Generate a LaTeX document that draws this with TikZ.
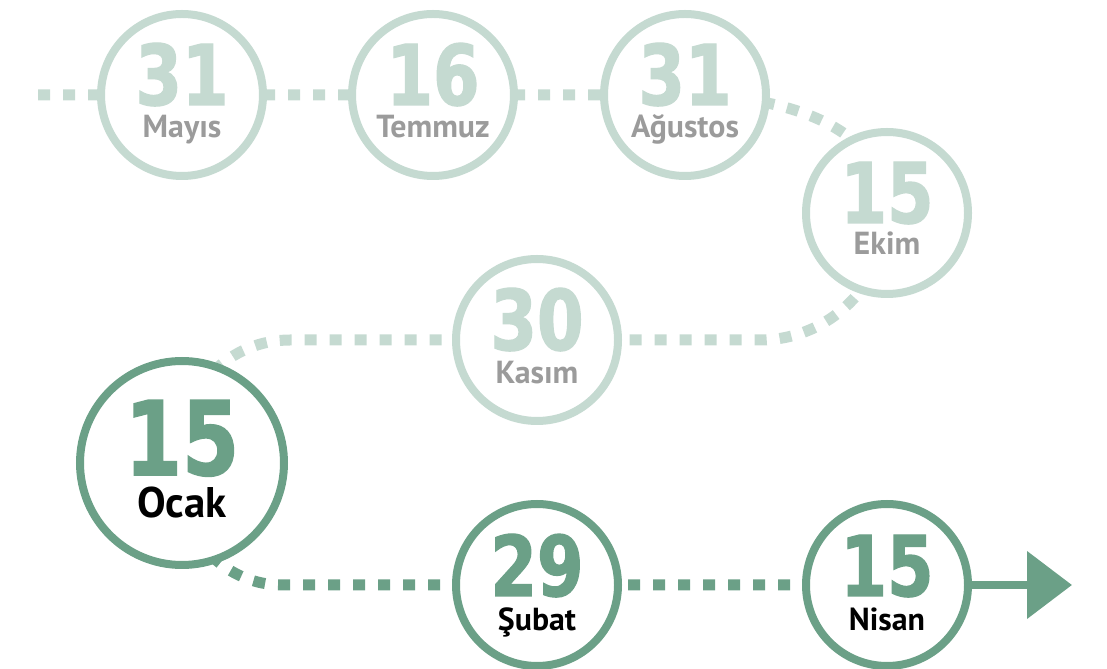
\documentclass[tikz,border=0pt]{standalone}
\usepackage{fontspec}
\setmainfont{PT Sans}
\newfontfamily\numfont[FakeStretch=0.8,FakeBold=1.5]{DejaVu Sans}
\usetikzlibrary{arrows.meta,backgrounds}
\definecolor{palegreen}{RGB}{197,218,209}
\definecolor{sagegreen}{RGB}{107,160,135}
\definecolor{labelgray}{RGB}{155,155,155}

\begin{document}
\begin{tikzpicture}[
  past/.style={circle,draw=palegreen,line width=8bp,fill=white,minimum size=162bp,inner sep=0pt},
  next/.style={past,draw=sagegreen},
  pastnum/.style={anchor=base,inner sep=0pt,text=palegreen,font=\numfont\bfseries\fontsize{84}{84}\selectfont},
  nextnum/.style={pastnum,text=sagegreen},
  pasttxt/.style={anchor=base,inner sep=0pt,text=labelgray,font=\bfseries\fontsize{32}{32}\selectfont},
  nexttxt/.style={pasttxt,text=black},
  pastline/.style={draw=palegreen,line width=11bp,dash pattern=on 12bp off 13bp},
  nextline/.style={pastline,draw=sagegreen}]
  \useasboundingbox (0,0) rectangle (1107bp,669bp);
  \coordinate (start) at (38bp,574bp);
  \node (Mayis) at (182bp,574bp) [past] {};
  \node (n-Mayis) at (182bp,564bp) [pastnum] {31};
  \node (t-Mayis) at (182bp,531bp) [pasttxt] {Mayıs};
  \node (Temmuz) at (433bp,574bp) [past] {};
  \node (n-Temmuz) at (433bp,564bp) [pastnum] {16};
  \node (t-Temmuz) at (433bp,531bp) [pasttxt] {Temmuz};
  \node (Agustos) at (685bp,574bp) [past] {};
  \node (n-Agustos) at (685bp,564bp) [pastnum] {31};
  \node (t-Agustos) at (685bp,531bp) [pasttxt] {Ağustos};
  \node (Ekim) at (887bp,456bp) [past] {};
  \node (n-Ekim) at (887bp,446bp) [pastnum] {15};
  \node (t-Ekim) at (887bp,414bp) [pasttxt] {Ekim};
  \node (Kasim) at (537bp,329bp) [past] {};
  \node (n-Kasim) at (537bp,319bp) [pastnum] {30};
  \node (t-Kasim) at (537bp,285bp) [pasttxt] {Kasım};
  \node (Ocak) at (182bp,206bp) [next,minimum size=204bp] {};
  \node (n-Ocak) at (182bp,194bp) [nextnum,font=\numfont\bfseries\fontsize{103}{103}\selectfont] {15};
  \node (t-Ocak) at (182bp,151bp) [nexttxt,font=\bfseries\fontsize{43}{43}\selectfont] {Ocak};
  \node (Subat) at (537bp,84bp) [next] {};
  \node (n-Subat) at (537bp,73bp) [nextnum] {29};
  \node (t-Subat) at (537bp,39bp) [nexttxt] {Şubat};
  \node (Nisan) at (887bp,84bp) [next] {};
  \node (n-Nisan) at (887bp,73bp) [nextnum] {15};
  \node (t-Nisan) at (887bp,39bp) [nexttxt] {Nisan};
  \coordinate (tip) at (1072bp,84bp);
  \begin{pgfonlayer}{background}
  \draw [pastline] (start) -- (Mayis.center) -- (Temmuz.center) -- (Agustos.center) .. controls (776bp,574bp) and (887bp,547bp) .. (Ekim.center) .. controls (887bp,386bp) and (830bp,329bp) .. (760bp,329bp) -- (Kasim.center) -- (290bp,329bp) .. controls (230bp,329bp) and (182bp,281bp) .. (182bp,221bp) -- (Ocak.center);
  \draw [nextline] (Ocak.center) -- (182bp,184bp) .. controls (182bp,129bp) and (227bp,84bp) .. (282bp,84bp) -- (Subat.center) -- (Nisan.center);
  \end{pgfonlayer}
  \draw [sagegreen,line width=8bp,-{Triangle[length=45bp,width=66bp]}] (Nisan) -- (tip);
\end{tikzpicture}
\end{document}
